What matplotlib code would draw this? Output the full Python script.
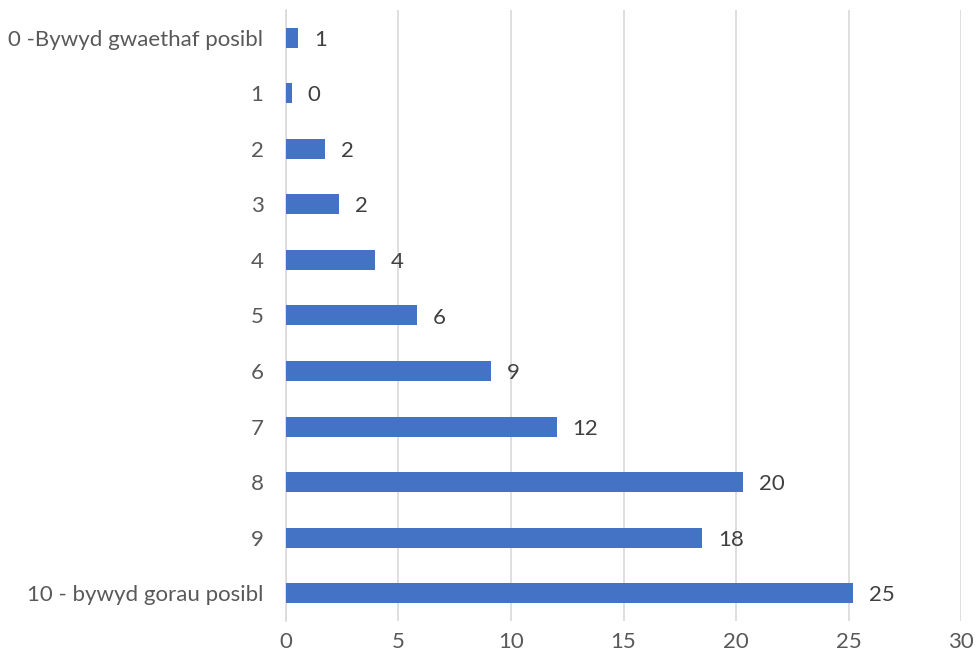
import matplotlib.pyplot as plt

# Categories (top to bottom) and bar values
categories = ['0 -Bywyd gwaethaf posibl', '1', '2', '3', '4', '5', '6', '7', '8', '9',
              '10 - bywyd gorau posibl']
values = [0.54, 0.26, 1.74, 2.36, 3.97, 5.82, 9.1, 12.03, 20.3, 18.5, 25.2]
labels = ['1', '0', '2', '2', '4', '6', '9', '12', '20', '18', '25']
xticks = [0, 5, 10, 15, 20, 25, 30]

plt.rcParams['font.family'] = ['Lato', 'DejaVu Sans']
text_color = '#595959'

fig = plt.figure(figsize=(9.79, 6.63), dpi=100)
ax = fig.add_axes([0.2918, 0.0633, 0.6902, 0.9217])

pos = list(range(len(categories)))
ax.barh(pos, values, height=0.36, color='#4472C4', zorder=3)

# Data labels
for p, v, lab in zip(pos, values, labels):
    ax.annotate(lab, (v, p), xytext=(11.5, -1.5), textcoords='offset points',
                va='center', ha='left', fontsize=16, color='#404040')

ax.set_yticks(pos)
ax.set_yticklabels(categories)
ax.set_ylim(len(categories) - 0.5, -0.5)
ax.set_xlim(0, 30)
ax.set_xticks(xticks)

ax.grid(axis='x', color='#d9d9d9', linewidth=1.2, zorder=0)
for s in ['top', 'right', 'bottom']:
    ax.spines[s].set_visible(False)
ax.spines['left'].set_color('#d9d9d9')
ax.spines['left'].set_linewidth(1.2)
ax.tick_params(axis='both', length=0, labelsize=16, colors=text_color)
ax.tick_params(axis='y', pad=16)
ax.tick_params(axis='x', pad=8)

fig.savefig('out.png', dpi=100)
